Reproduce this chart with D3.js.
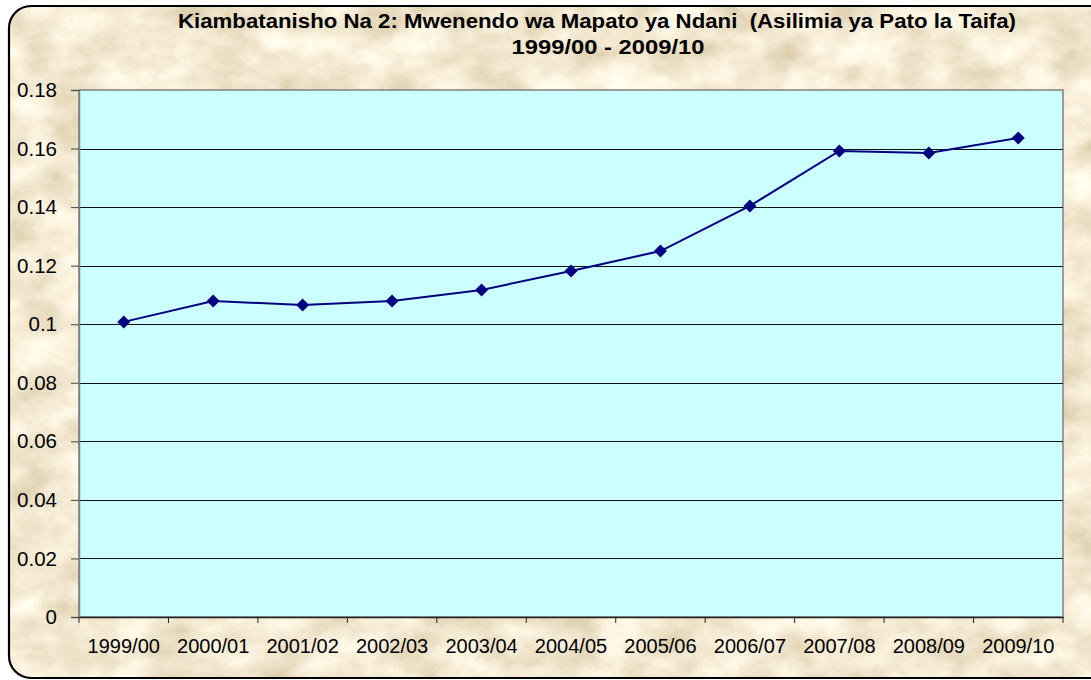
<!DOCTYPE html>
<html>
<head>
<meta charset="utf-8">
<script src="https://cdn.jsdelivr.net/npm/d3@7"></script>
<style>
  body { margin: 0; background: #fff; }
  svg { display: block; }
</style>
</head>
<body>
<div id="chart"></div>
<script>
// Datos del gráfico
const categorias = ["1999/00", "2000/01", "2001/02", "2002/03", "2003/04", "2004/05",
                    "2005/06", "2006/07", "2007/08", "2008/09", "2009/10"];
const valores = [0.1008, 0.1079, 0.1066, 0.1079, 0.1117, 0.1182,
                 0.1250, 0.1404, 0.1592, 0.1585, 0.1636];
const ticksY = [0, 0.02, 0.04, 0.06, 0.08, 0.1, 0.12, 0.14, 0.16, 0.18];
const titulo = ["Kiambatanisho Na 2: Mwenendo wa Mapato ya Ndani  (Asilimia ya Pato la Taifa)",
                "1999/00 - 2009/10"];

const width = 1091, height = 680;
const plot = { left: 79, top: 90, right: 1063, bottom: 617 };
const fuente = "'Liberation Sans', Arial, Helvetica, sans-serif";

const svg = d3.select("#chart").append("svg")
    .attr("width", width)
    .attr("height", height);

// Textura de pergamino
const defs = svg.append("defs");
const filtro = defs.append("filter").attr("id", "papel")
    .attr("x", 0).attr("y", 0).attr("width", "100%").attr("height", "100%");
filtro.append("feTurbulence")
    .attr("type", "fractalNoise")
    .attr("baseFrequency", "0.02 0.03")
    .attr("numOctaves", 5)
    .attr("seed", 7)
    .attr("result", "ruido");
filtro.append("feColorMatrix")
    .attr("in", "ruido")
    .attr("type", "matrix")
    .attr("values", "0 0 0 0.50 0.65  0 0 0 0.55 0.54  0 0 0 0.65 0.32  0 0 0 0 1")
    .attr("result", "color");
filtro.append("feComposite").attr("in", "color").attr("in2", "SourceGraphic").attr("operator", "in");

svg.append("rect")
    .attr("x", 9).attr("y", 6).attr("width", 1110).attr("height", 672).attr("rx", 22)
    .attr("fill", "#e6d3ad")
    .attr("filter", "url(#papel)");

svg.append("rect")
    .attr("x", 9).attr("y", 6).attr("width", 1110).attr("height", 672).attr("rx", 22)
    .attr("fill", "none")
    .attr("stroke", "#000")
    .attr("stroke-width", 2.2);

// Escalas
const x = d3.scaleBand().domain(categorias).range([plot.left, plot.right]);
const y = d3.scaleLinear().domain([0, 0.18]).range([plot.bottom, plot.top]);

// Área de trazado
svg.append("rect")
    .attr("x", plot.left).attr("y", plot.top)
    .attr("width", plot.right - plot.left).attr("height", plot.bottom - plot.top)
    .attr("fill", "#ccffff")
    .attr("stroke", "#808080")
    .attr("stroke-width", 1.5);

// Líneas de cuadrícula
svg.selectAll(".grid")
    .data(ticksY.filter(d => d > 0 && d < 0.18))
    .enter()
    .append("line")
    .attr("class", "grid")
    .attr("x1", plot.left).attr("x2", plot.right)
    .attr("y1", d => Math.round(y(d)) + 0.5).attr("y2", d => Math.round(y(d)) + 0.5)
    .style("stroke", "#111")
    .style("stroke-width", 1);

// Eje Y
const ejeY = svg.append("g")
    .attr("transform", `translate(${plot.left},0)`)
    .call(d3.axisLeft(y).tickValues(ticksY).tickSize(8).tickPadding(14)
        .tickFormat(d => d3.format("")(+d.toFixed(2))));
ejeY.select(".domain").attr("stroke", "#808080").attr("stroke-width", 1.5);
ejeY.selectAll(".tick line").attr("stroke", "#444");
ejeY.selectAll("text")
    .style("font-family", fuente)
    .style("font-size", "20.5px")
    .attr("fill", "#000");

// Eje X
const ejeX = svg.append("g")
    .attr("transform", `translate(0,${plot.bottom})`)
    .call(d3.axisBottom(x).tickSize(0).tickPadding(22));
ejeX.select(".domain").attr("stroke", "#222").attr("stroke-width", 1.5);
ejeX.selectAll("text")
    .style("font-family", fuente)
    .style("font-size", "20px")
    .attr("fill", "#000");
// marcas entre categorías
ejeX.selectAll(".sep")
    .data(d3.range(categorias.length + 1))
    .enter()
    .append("line")
    .attr("class", "sep")
    .attr("x1", i => plot.left + i * x.step()).attr("x2", i => plot.left + i * x.step())
    .attr("y1", 0).attr("y2", 6)
    .attr("stroke", "#222");

// Línea de la serie
const puntos = categorias.map((c, i) => ({ c, v: valores[i] }));
const linea = d3.line()
    .x(d => x(d.c) + x.bandwidth() / 2)
    .y(d => y(d.v));

svg.append("path")
    .datum(puntos)
    .attr("d", linea)
    .attr("fill", "none")
    .attr("stroke", "#000080")
    .attr("stroke-width", 2);

svg.selectAll(".marca")
    .data(puntos)
    .enter()
    .append("path")
    .attr("class", "marca")
    .attr("transform", d => `translate(${x(d.c) + x.bandwidth() / 2},${y(d.v)})`)
    .attr("d", "M0,-6.5 L6.5,0 L0,6.5 L-6.5,0 Z")
    .attr("fill", "#000080");

// Título
svg.selectAll(".titulo")
    .data(titulo)
    .enter()
    .append("text")
    .attr("class", "titulo")
    .attr("x", (d, i) => i === 0 ? 597 : 608)
    .attr("y", (d, i) => 28 + i * 26)
    .attr("text-anchor", "middle")
    .style("font-family", "'Liberation Sans Narrow', 'Liberation Sans', Arial, sans-serif")
    .style("font-weight", "bold")
    .style("font-size", "19.5px")
    .style("white-space", "pre")
    .attr("textLength", (d, i) => i === 0 ? 838 : 193)
    .attr("lengthAdjust", "spacingAndGlyphs")
    .text(d => d);
</script>
</body>
</html>
